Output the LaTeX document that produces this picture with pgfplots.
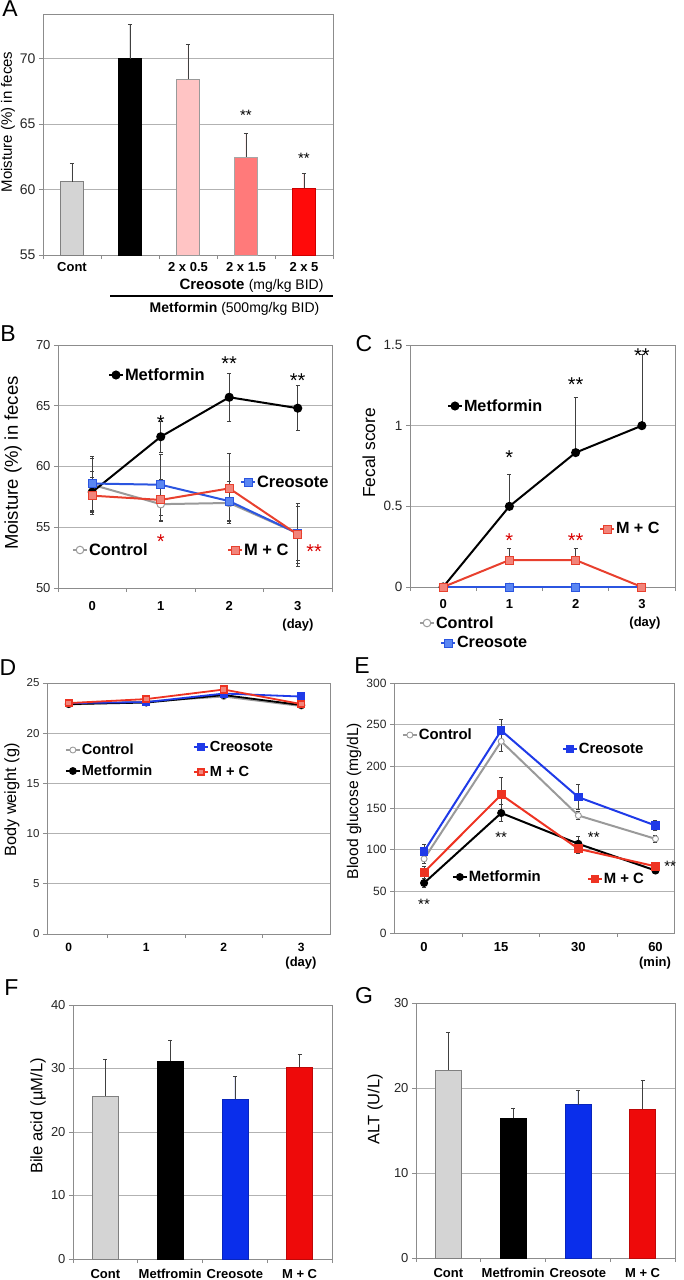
\documentclass[border=0pt]{standalone}
\usepackage{pgfplots}
\pgfplotsset{compat=1.18}
\usepackage{fontspec}
\setmainfont{Liberation Sans}
\newcommand{\fs}[1]{\fontsize{#1}{#1}\selectfont}
\definecolor{cgray}{HTML}{9A9A9A}
\definecolor{cblue}{HTML}{2B55E0}
\definecolor{cbluef}{HTML}{5A86F2}
\definecolor{cred}{HTML}{E8402E}
\definecolor{credf}{HTML}{F2847A}
\definecolor{dblue}{HTML}{1F3AE8}
\definecolor{dred}{HTML}{EE3322}
\definecolor{barg}{HTML}{D4D4D4}
\definecolor{pinka}{HTML}{FFC4C4}
\definecolor{pinkb}{HTML}{FF7A7A}
\definecolor{reda}{HTML}{FF0A0A}
\definecolor{fblue}{HTML}{0A2EEB}
\definecolor{fred}{HTML}{EE0A0A}
\pgfplotsset{
 exc/.style={scale only axis, anchor=south west,
   axis line style={draw=black!45, line width=0.8pt},
   every tick/.style={draw=black!45, line width=0.8pt},
   major tick length=4pt, tick align=outside,
   xtick pos=bottom, ytick pos=left,
   ymajorgrids, grid style={draw=black!30, line width=0.8pt},
   /pgf/number format/assume math mode=true,
   yticklabel style={text=black!85},
   xticklabel style={font=\bfseries\fs{13}},
   clip=false},
 lgdax/.style={scale only axis, width=1pt, height=1pt, hide axis,
   xmin=0, xmax=1, ymin=0, ymax=1, anchor=south west, legend cell align=left,
   legend style={at={(0,0)}, anchor=west, draw=none, fill=none, inner sep=0pt,
     outer sep=0pt, nodes={inner sep=1pt}},
   legend image code/.code={\draw[mark repeat=2,mark phase=2,##1] plot coordinates {(0pt,0pt) (7pt,0pt) (14pt,0pt)};}},
 ebars/.style={error bars/y explicit, error bars/y dir=#1,
   error bars/error bar style={draw=black!75, line width=0.7pt, solid},
   error bars/error mark options={rotate=90, draw=black!75, mark size=2pt, line width=0.7pt, solid, fill=none}},
 sctl/.style={cgray, line width=2pt, mark=*, mark size=3.8pt, mark options={fill=white, draw=cgray, line width=1pt}},
 smet/.style={black, line width=2pt, mark=*, mark size=3.5pt, mark options={fill=black, draw=black}},
 scre/.style={cblue, line width=2pt, mark=square*, mark size=4pt, mark options={fill=cbluef, draw=cblue, line width=1pt}},
 smc/.style={cred, line width=2pt, mark=square*, mark size=4pt, mark options={fill=credf, draw=cred, line width=1pt}},
 dctl/.style={cgray, line width=1.8pt, mark=*, mark size=3pt, mark options={fill=white, draw=cgray, line width=0.9pt}},
 dmet/.style={black, line width=1.8pt, mark=*, mark size=3pt, mark options={fill=black}},
 dcre/.style={dblue, line width=1.8pt, mark=square*, mark size=3.2pt, mark options={fill=dblue}},
 dmc/.style={dred, line width=1.8pt, mark=square*, mark size=3.2pt, mark options={fill=credf, draw=dred}},
}
\tikzset{plab/.style={font=\fs{23}, inner sep=0pt}}
\newcommand{\lgd}[5]{%
\begin{axis}[lgdax, at={(#1pt,-#2pt)}, legend style={font=\bfseries\fs{#5}}]
\addlegendimage{#3}
\addlegendentry{#4}
\end{axis}}
\begin{document}
\begin{tikzpicture}
\useasboundingbox (0pt,0pt) rectangle (684pt,-1280pt);
% ---------------- A
\begin{axis}[exc, at={(43pt,-255pt)}, width=290pt, height=241pt,
  xmin=-0.5, xmax=4.5, ymin=55, ymax=73.4, ytick={55,60,65,70},
  x tick label as interval, xtick={-0.5,0.5,1.5,2.5,3.5,4.5},
  xticklabels={Cont,,2 x 0.5,2 x 1.5,2 x 5},
  yticklabel style={font=\fs{14}},
  ylabel={Moisture (\%) in feces},
  ylabel style={font=\fs{15}, at={(axis description cs:-0.1207,0.552)}, anchor=center},
  ybar, bar width=23pt, clip=true, ebars=plus]
\addplot[fill=barg, draw=black!50, bar shift=0pt] coordinates {(0,60.6) +- (0,1.4)};
\addplot[fill=black, draw=black, bar shift=0pt] coordinates {(1,70.0) +- (0,2.6)};
\addplot[fill=pinka, draw=black!40, bar shift=0pt] coordinates {(2,68.4) +- (0,2.7)};
\addplot[fill=pinkb, draw=black!35, bar shift=0pt] coordinates {(3,62.5) +- (0,1.8)};
\addplot[fill=reda, draw=red!80!black, bar shift=0pt] coordinates {(4,60.1) +- (0,1.1)};
\node[font=\fs{15}] at (axis cs:3,65.7) {**};
\node[font=\fs{15}] at (axis cs:4,62.4) {**};
\end{axis}
\node[plab] at (10pt,-8.5pt) {A};
\node at (251.5pt,-286pt) {\bfseries\fs{15}Creosote \mdseries\fs{14}(mg/kg BID)};
\draw[line width=2pt] (110pt,-296pt) -- (333pt,-296pt);
\node[anchor=base] at (234.5pt,-312pt) {\bfseries\fs{14}Metformin \mdseries\fs{14}(500mg/kg BID)};
% ---------------- B
\begin{axis}[exc, at={(58pt,-588pt)}, width=274pt, height=243pt,
  xmin=-0.5, xmax=3.5, ymin=50, ymax=70, ytick={50,55,60,65,70},
  x tick label as interval, xtick={-0.5,0.5,1.5,2.5,3.5}, xticklabels={0,1,2,3},
  xticklabel style={yshift=-6pt},
  yticklabel style={font=\fs{13}},
  ylabel={Moisture (\%) in feces},
  ylabel style={font=\fs{18.5}, at={(axis description cs:-0.1642,0.514)}, anchor=center},
  ebars=both]
\addplot[sctl] coordinates {(0,58.5) +- (0,2.2) (1,56.9) +- (0,1.45) (2,57.0) +- (0,1.55) (3,54.5) +- (0,2.5)};
\addplot[smet] coordinates {(0,57.9) +- (0,1.7) (1,62.45) +- (0,1.3) (2,65.7) +- (0,2.0) (3,64.8) +- (0,1.85)};
\addplot[scre] coordinates {(0,58.6) +- (0,2.2) (1,58.5) +- (0,2.5) (2,57.15) +- (0,1.6) (3,54.5) +- (0,2.2)};
\addplot[smc] coordinates {(0,57.6) +- (0,1.5) (1,57.25) +- (0,1.7) (2,58.2) +- (0,2.9) (3,54.4) +- (0,2.6)};
\node[font=\fs{20}] at (axis cs:1,63.6) {*};
\node[font=\fs{20}] at (axis cs:2,68.5) {**};
\node[font=\fs{20}] at (axis cs:3,67.1) {**};
\node[font=\fs{20}, text=red!85!black] at (axis cs:1,53.8) {*};
\node[font=\fs{20}, text=red!85!black] at (axis cs:3.24,53.0) {**};
\end{axis}
\node[plab] at (8pt,-334pt) {B};
\node[font=\bfseries\fs{13}] at (298pt,-625pt) {(day)};
\lgd{108}{375}{smet}{Metformin}{16.5}
\lgd{240}{482}{scre}{Creosote}{16.5}
\lgd{72}{550}{sctl}{Control}{16.5}
\lgd{227}{550}{smc}{M + C}{16.5}
% ---------------- C
\begin{axis}[exc, at={(410pt,-587pt)}, width=265pt, height=242pt,
  xmin=-0.5, xmax=3.5, ymin=0, ymax=1.5, ytick={0,0.5,1,1.5},
  x tick label as interval, xtick={-0.5,0.5,1.5,2.5,3.5}, xticklabels={0,1,2,3},
  xticklabel style={yshift=-5pt},
  yticklabel style={font=\fs{13.5}},
  ylabel={Fecal score},
  ylabel style={font=\fs{17.4}, at={(axis description cs:-0.1547,0.554)}, anchor=center},
  ebars=plus]
\addplot[sctl] coordinates {(0,0) (1,0) (2,0) (3,0)};
\addplot[scre, line width=1.2pt] coordinates {(0,0) (1,0) (2,0) (3,0)};
\addplot[smet] coordinates {(0,0) +- (0,0) (1,0.5) +- (0,0.2) (2,0.833) +- (0,0.34) (3,1.0) +- (0,0.44)};
\addplot[smc] coordinates {(0,0) +- (0,0) (1,0.167) +- (0,0.07) (2,0.167) +- (0,0.07) (3,0) +- (0,0)};
\node[font=\fs{20}] at (axis cs:1,0.80) {*};
\node[font=\fs{20}] at (axis cs:2,1.255) {**};
\node[font=\fs{20}] at (axis cs:3,1.435) {**};
\node[font=\fs{20}, text=red!85!black] at (axis cs:1,0.285) {*};
\node[font=\fs{20}, text=red!85!black] at (axis cs:2,0.285) {**};
\end{axis}
\node[plab] at (364pt,-343.5pt) {C};
\node[font=\bfseries\fs{13}] at (645pt,-623pt) {(day)};
\lgd{447}{406}{smet}{Metformin}{16.2}
\lgd{599}{529}{smc}{M + C}{16.2}
\lgd{419}{623}{sctl}{Control}{16.2}
\lgd{440}{643}{scre}{Creosote}{16.2}
% ---------------- D
\begin{axis}[exc, at={(47pt,-934pt)}, width=283pt, height=251pt,
  xmin=-0.28, xmax=3.37, ymin=0, ymax=25, ytick={0,5,...,25},
  xtick={0.5,1.5,2.5}, xticklabels={,,},
  extra x ticks={0,1,2,3}, extra x tick labels={0,1,2,3},
  extra x tick style={tick style={draw=none}},
  xticklabel style={yshift=-2pt, font=\bfseries\fs{12}},
  yticklabel style={font=\fs{11.5}},
  ylabel={Body weight (g)},
  ylabel style={font=\fs{16.3}, at={(axis description cs:-0.1237,0.534)}, anchor=center}]
\addplot[dctl] coordinates {(0,22.85) (1,23.15) (2,23.65) (3,22.7)};
\addplot[dmet] coordinates {(0,22.9) (1,23.05) (2,23.8) (3,22.8)};
\addplot[dcre] coordinates {(0,23.0) (1,23.1) (2,23.95) (3,23.65)};
\addplot[dmc] coordinates {(0,23.0) (1,23.4) (2,24.35) (3,22.9)};
\end{axis}
\node[plab] at (8pt,-668pt) {D};
\node[font=\bfseries\fs{13}] at (301pt,-963pt) {(day)};
\lgd{65}{750}{dctl}{Control}{14.6}
\lgd{65}{771}{dmet}{Metformin}{14.6}
\lgd{193}{747}{dcre}{Creosote}{14.6}
\lgd{193}{772}{dmc}{M + C}{14.6}
% ---------------- E
\begin{axis}[exc, at={(394pt,-933pt)}, width=280pt, height=250pt,
  xmin=-0.39, xmax=3.24, ymin=0, ymax=300, ytick={0,50,...,300},
  xtick={0.5,1.5,2.5}, xticklabels={,,},
  extra x ticks={0,1,2,3}, extra x tick labels={0,15,30,60},
  extra x tick style={tick style={draw=none}},
  xticklabel style={yshift=-2pt, font=\bfseries\fs{13}},
  yticklabel style={font=\fs{12}},
  ylabel={Blood glucose (mg/dL)},
  ylabel style={font=\fs{15.6}, at={(axis description cs:-0.1429,0.528)}, anchor=center},
  ebars=both]
\addplot[dctl, line width=2pt] coordinates {(0,89) +- (0,6) (1,230) +- (0,12) (2,141) +- (0,5) (3,113) +- (0,4)};
\addplot[dcre, line width=2pt] coordinates {(0,98) +- (0,8) (1,243) +- (0,13) (2,163) +- (0,15) (3,129) +- (0,6)};
\addplot[dmet, line width=2pt] coordinates {(0,60) +- (0,5) (1,144) +- (0,10) (2,107) +- (0,9) (3,75) +- (0,3)};
\addplot[dred, line width=2pt, mark=square*, mark size=3.5pt, mark options={fill=dred}] coordinates {(0,73) +- (0,7) (1,166) +- (0,21) (2,101) +- (0,5) (3,80) +- (0,3)};
\node[font=\fs{15}] at (axis cs:0,34) {**};
\node[font=\fs{15}] at (axis cs:1,114.4) {**};
\node[font=\fs{15}] at (axis cs:2.2,114.4) {**};
\node[font=\fs{15}] at (axis cs:3.19,80.4) {**};
\end{axis}
\node[plab] at (362pt,-666pt) {E};
\node[font=\bfseries\fs{13}] at (655pt,-963pt) {(min)};
\lgd{402}{735}{dctl}{Control}{14.9}
\lgd{562}{749}{dcre}{Creosote}{14.9}
\lgd{452}{877}{dmet}{Metformin}{14.9}
\lgd{587}{879}{dred, line width=1.8pt, mark=square*, mark size=3.2pt, mark options={fill=dred}}{M + C}{14.9}
% ---------------- F
\begin{axis}[exc, at={(73pt,-1259pt)}, width=259pt, height=254pt,
  xmin=-0.5, xmax=3.5, ymin=0, ymax=40, ytick={0,10,...,40},
  x tick label as interval, xtick={-0.5,0.5,1.5,2.5,3.5},
  xticklabels={Cont,Metfromin,Creosote,M + C},
  xticklabel style={yshift=-3pt},
  yticklabel style={font=\fs{13}},
  ylabel={Bile acid (µM/L)},
  ylabel style={font=\fs{16.6}, at={(axis description cs:-0.1351,0.563)}, anchor=center},
  ybar, bar width=26pt, ebars=plus]
\addplot[fill=barg, draw=black!50, bar shift=0pt] coordinates {(0,25.6) +- (0,5.9)};
\addplot[fill=black, draw=black, bar shift=0pt] coordinates {(1,31.2) +- (0,3.3)};
\addplot[fill=fblue, draw=fblue!80!black, bar shift=0pt] coordinates {(2,25.2) +- (0,3.6)};
\addplot[fill=fred, draw=fred!80!black, bar shift=0pt] coordinates {(3,30.2) +- (0,2.1)};
\end{axis}
\node[plab] at (11.5pt,-988pt) {F};
% ---------------- G
\begin{axis}[exc, at={(416pt,-1258pt)}, width=259pt, height=255pt,
  xmin=-0.5, xmax=3.5, ymin=0, ymax=30, ytick={0,10,20,30},
  x tick label as interval, xtick={-0.5,0.5,1.5,2.5,3.5},
  xticklabels={Cont,Metfromin,Creosote,M + C},
  xticklabel style={yshift=-3pt},
  yticklabel style={font=\fs{13}},
  ylabel={ALT (U/L)},
  ylabel style={font=\fs{16.5}, at={(axis description cs:-0.1583,0.584)}, anchor=center},
  ybar, bar width=26pt, ebars=plus]
\addplot[fill=barg, draw=black!50, bar shift=0pt] coordinates {(0,22.1) +- (0,4.4)};
\addplot[fill=black, draw=black, bar shift=0pt] coordinates {(1,16.5) +- (0,1.15)};
\addplot[fill=fblue, draw=fblue!80!black, bar shift=0pt] coordinates {(2,18.05) +- (0,1.65)};
\addplot[fill=fred, draw=fred!80!black, bar shift=0pt] coordinates {(3,17.55) +- (0,3.35)};
\end{axis}
\node[plab] at (364pt,-996pt) {G};
\end{tikzpicture}
\end{document}
